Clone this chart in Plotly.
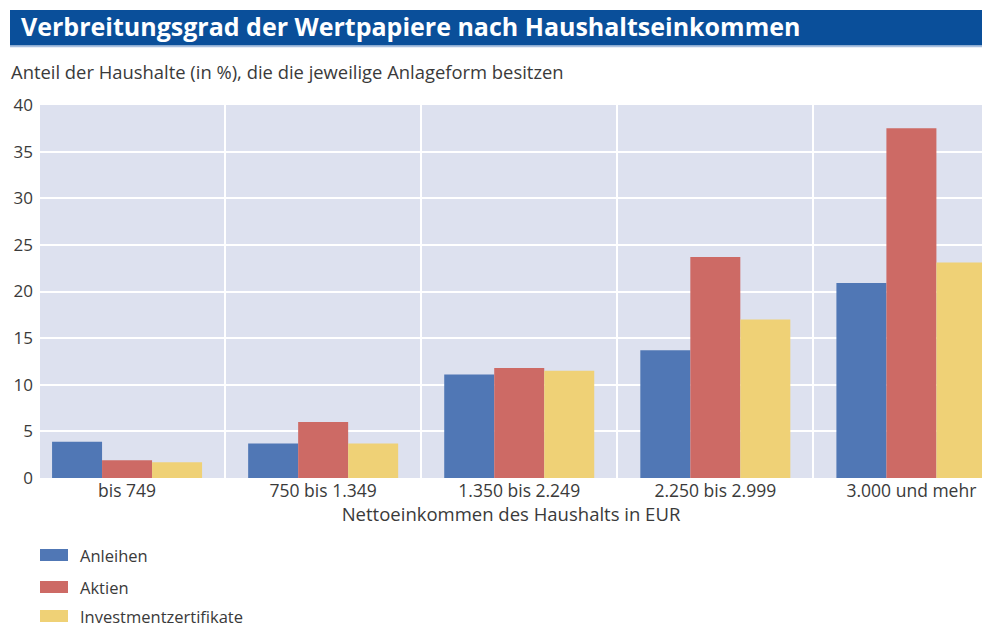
import plotly.graph_objects as go

categories = ["bis 749", "750 bis 1.349", "1.350 bis 2.249", "2.250 bis 2.999", "3.000 und mehr"]
anleihen = [3.9, 3.7, 11.1, 13.7, 20.9]
aktien = [1.9, 6.0, 11.8, 23.7, 37.5]
investment = [1.7, 3.7, 11.5, 17.0, 23.1]
series_names = ["Anleihen", "Aktien", "Investmentzertifikate"]
y_ticks = [0, 5, 10, 15, 20, 25, 30, 35, 40]

colors = ["#5077B5", "#CD6A65", "#EFD176"]
font_family = "Open Sans, Lato, sans-serif"
text_color = "#3a3a3a"
xpos = list(range(len(categories)))

W, H = 982, 628
# plot area in window pixels: x 40..982, y 105..478
L, R, T, B = 40, 982, 105, 478
PW, PH = R - L, B - T
def px(x):
    return (x - L) / PW
def py(y):
    return (B - y) / PH

fig = go.Figure()
for name, vals, col in zip(series_names, [anleihen, aktien, investment], colors):
    fig.add_trace(go.Bar(x=xpos, y=vals, name=name, marker=dict(color=col, line=dict(width=0))))

shapes = [
    dict(type="rect", xref="paper", yref="paper",
         x0=px(10), x1=1.0, y0=py(45.5), y1=py(10),
         fillcolor="#0A4F9A", line=dict(width=0), layer="below"),
    dict(type="line", xref="paper", yref="paper",
         x0=px(10), x1=1.0, y0=py(46.5), y1=py(46.5),
         line=dict(color="#A8C0E0", width=1.5)),
]
annotations = [
    dict(text="Anteil der Haushalte (in %), die die jeweilige Anlageform besitzen",
         xref="paper", yref="paper", x=px(9), y=py(72),
         xanchor="left", yanchor="middle", showarrow=False,
         font=dict(size=18.4, color=text_color)),
]
# legend (manual, to match the reference swatch size)
legend_y = [555, 587, 616]
for name, col, ly in zip(series_names, colors, legend_y):
    shapes.append(dict(type="rect", xref="paper", yref="paper",
                       x0=px(40), x1=px(68), y0=py(ly + 6), y1=py(ly - 6),
                       fillcolor=col, line=dict(width=0)))
    annotations.append(dict(text=name, xref="paper", yref="paper",
                            x=px(78), y=py(ly), xanchor="left", yanchor="middle",
                            showarrow=False, font=dict(size=16.5, color=text_color)))

fig.update_layout(
    width=W, height=H,
    margin=dict(l=L, r=W - R, t=T, b=H - B, autoexpand=False),
    paper_bgcolor="white",
    plot_bgcolor="#DDE1EF",
    barmode="group",
    bargap=0.235,
    bargroupgap=0,
    font=dict(family=font_family, size=17, color=text_color),
    title=dict(
        text="<b>Verbreitungsgrad der Wertpapiere nach Haushaltseinkommen</b>",
        x=21 / W, xanchor="left", xref="container",
        y=1 - 27 / H, yanchor="middle", yref="container",
        font=dict(size=25, color="white", family=font_family),
    ),
    showlegend=False,
    xaxis=dict(
        tickmode="array", tickvals=xpos, ticktext=categories,
        range=[-0.444, 4.36],
        showgrid=False, zeroline=False, showline=False,
        ticks="", tickfont=dict(size=17.5), ticklabeloverflow="allow",
        title=dict(text="Nettoeinkommen des Haushalts in EUR", font=dict(size=18.5), standoff=4),
        minor=dict(tickvals=[0.5, 1.5, 2.5, 3.5], showgrid=True, gridcolor="white", gridwidth=2, ticks=""),
    ),
    yaxis=dict(
        range=[0, 40], tickvals=y_ticks,
        showgrid=True, gridcolor="white", gridwidth=2,
        zeroline=False, showline=False, ticks="",
        tickfont=dict(size=17), ticklabelstandoff=6,
    ),
    shapes=shapes,
    annotations=annotations,
)

fig.write_html(
    "out.html",
    config={"displayModeBar": False},
    post_script="document.body.style.margin='0';document.body.style.overflow='hidden';",
)
